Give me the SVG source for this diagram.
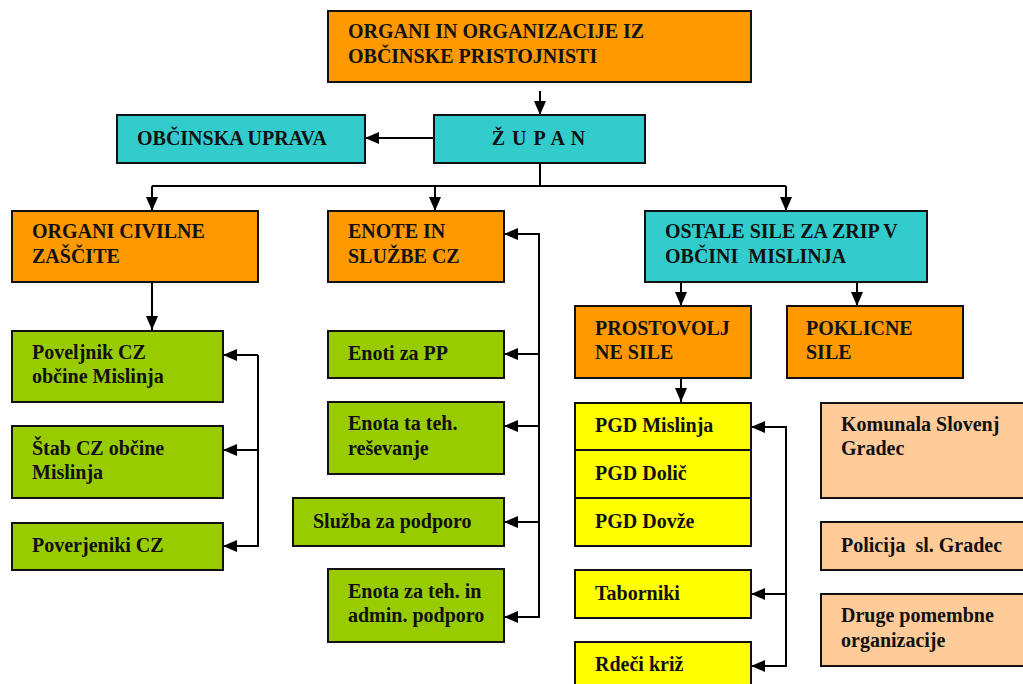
<svg xmlns="http://www.w3.org/2000/svg" width="1023" height="684" viewBox="0 0 1023 684">
<style>
.n rect{stroke:#111;stroke-width:2}
.or{fill:#FF9900}.cy{fill:#33CCCC}.gr{fill:#99CC00}.ye{fill:#FFFF00}.pe{fill:#FFCC99}
text{font-family:"Liberation Serif","Times New Roman",serif;font-weight:bold;font-size:20px;fill:#111}
#connectors path,#connectors line{stroke:#000;stroke-width:2;fill:none}
</style>
<defs>
<marker id="ah" viewBox="0 0 14 12" refX="14" refY="6" markerWidth="14" markerHeight="12" markerUnits="userSpaceOnUse" orient="auto">
<path d="M0,0 L14,6 L0,12 z" fill="#000"/>
</marker>
</defs>
<rect width="1023" height="684" fill="#fff"/>
<g id="connectors">
<line x1="540" y1="91" x2="540" y2="115" marker-end="url(#ah)"/>
<line x1="434" y1="138" x2="365" y2="138" marker-end="url(#ah)"/>
<path d="M540,163 V186"/>
<path d="M152,186 H786"/>
<line x1="152" y1="186" x2="152" y2="211" marker-end="url(#ah)"/>
<line x1="435" y1="186" x2="435" y2="211" marker-end="url(#ah)"/>
<line x1="786" y1="186" x2="786" y2="211" marker-end="url(#ah)"/>
<line x1="152" y1="282" x2="152" y2="330" marker-end="url(#ah)"/>
<path d="M258,355 V546"/>
<line x1="258" y1="355" x2="223" y2="355" marker-end="url(#ah)"/>
<line x1="258" y1="450" x2="223" y2="450" marker-end="url(#ah)"/>
<line x1="259" y1="546" x2="223" y2="546" marker-end="url(#ah)"/>
<path d="M539,234 V617"/>
<line x1="540" y1="234" x2="504" y2="234" marker-end="url(#ah)"/>
<line x1="539" y1="354" x2="504" y2="354" marker-end="url(#ah)"/>
<line x1="539" y1="426" x2="504" y2="426" marker-end="url(#ah)"/>
<line x1="539" y1="522" x2="504" y2="522" marker-end="url(#ah)"/>
<line x1="540" y1="617" x2="504" y2="617" marker-end="url(#ah)"/>
<line x1="681" y1="282" x2="681" y2="306" marker-end="url(#ah)"/>
<line x1="857" y1="282" x2="857" y2="306" marker-end="url(#ah)"/>
<line x1="681" y1="378" x2="681" y2="402" marker-end="url(#ah)"/>
<path d="M786,427 V666"/>
<line x1="787" y1="427" x2="751" y2="427" marker-end="url(#ah)"/>
<line x1="786" y1="594" x2="751" y2="594" marker-end="url(#ah)"/>
<line x1="787" y1="666" x2="751" y2="666" marker-end="url(#ah)"/>
</g>
<g id="n-top" class="n"><rect class="or" x="328" y="11" width="423" height="71"/><text x="348" y="38">ORGANI IN ORGANIZACIJE IZ</text><text x="348" y="63">OBČINSKE PRISTOJNISTI</text></g>
<g id="n-zupan" class="n"><rect class="cy" x="434" y="115" width="211" height="48"/><text x="539" y="145" text-anchor="middle" letter-spacing="1">Ž U P A N</text></g>
<g id="n-uprava" class="n"><rect class="cy" x="117" y="115" width="248" height="48"/><text x="137" y="145">OBČINSKA UPRAVA</text></g>
<g id="n-organi" class="n"><rect class="or" x="12" y="211" width="246" height="71"/><text x="32" y="238">ORGANI CIVILNE</text><text x="32" y="263">ZAŠČITE</text></g>
<g id="n-enote" class="n"><rect class="or" x="328" y="211" width="176" height="71"/><text x="348" y="238">ENOTE IN</text><text x="348" y="263">SLUŽBE CZ</text></g>
<g id="n-ostale" class="n"><rect class="cy" x="645" y="211" width="282" height="71"/><text x="665" y="238">OSTALE SILE ZA ZRIP V</text><text x="665" y="263" xml:space="preserve">OBČINI  MISLINJA</text></g>
<g id="n-poveljnik" class="n"><rect class="gr" x="12" y="331" width="211" height="71"/><text x="32" y="359">Poveljnik CZ</text><text x="32" y="383">občine Mislinja</text></g>
<g id="n-stab" class="n"><rect class="gr" x="12" y="426" width="211" height="72"/><text x="32" y="455">Štab CZ občine</text><text x="32" y="479">Mislinja</text></g>
<g id="n-poverjeniki" class="n"><rect class="gr" x="12" y="523" width="211" height="47"/><text x="32" y="552">Poverjeniki CZ</text></g>
<g id="n-pp" class="n"><rect class="gr" x="328" y="331" width="176" height="47"/><text x="348" y="360">Enoti za PP</text></g>
<g id="n-tehres" class="n"><rect class="gr" x="328" y="402" width="176" height="72"/><text x="348" y="430">Enota ta teh.</text><text x="348" y="455">reševanje</text></g>
<g id="n-sluzba" class="n"><rect class="gr" x="293" y="498" width="211" height="48"/><text x="313" y="528">Služba za podporo</text></g>
<g id="n-admin" class="n"><rect class="gr" x="328" y="569" width="176" height="73"/><text x="348" y="598">Enota za teh. in</text><text x="348" y="622">admin. podporo</text></g>
<g id="n-prostovolj" class="n"><rect class="or" x="575" y="306" width="176" height="72"/><text x="595" y="335">PROSTOVOLJ</text><text x="595" y="359">NE SILE</text></g>
<g id="n-poklicne" class="n"><rect class="or" x="787" y="306" width="176" height="72"/><text x="806" y="335">POKLICNE</text><text x="806" y="359">SILE</text></g>
<g id="n-pgdm" class="n"><rect class="ye" x="575" y="403" width="176" height="47"/><text x="595" y="432">PGD Mislinja</text></g>
<g id="n-pgdd" class="n"><rect class="ye" x="575" y="450" width="176" height="48"/><text x="595" y="480">PGD Dolič</text></g>
<g id="n-pgddo" class="n"><rect class="ye" x="575" y="498" width="176" height="48"/><text x="595" y="528">PGD Dovže</text></g>
<g id="n-taborniki" class="n"><rect class="ye" x="575" y="570" width="176" height="48"/><text x="595" y="600">Taborniki</text></g>
<g id="n-rk" class="n"><rect class="ye" x="575" y="642" width="176" height="52"/><text x="595" y="671">Rdeči križ</text></g>
<g id="n-komunala" class="n"><rect class="pe" x="821" y="403" width="212" height="95"/><text x="841" y="431">Komunala Slovenj</text><text x="841" y="455">Gradec</text></g>
<g id="n-policija" class="n"><rect class="pe" x="821" y="522" width="212" height="48"/><text x="841" y="552" xml:space="preserve">Policija  sl. Gradec</text></g>
<g id="n-druge" class="n"><rect class="pe" x="821" y="594" width="212" height="72"/><text x="841" y="622">Druge pomembne</text><text x="841" y="647">organizacije</text></g>
</svg>
